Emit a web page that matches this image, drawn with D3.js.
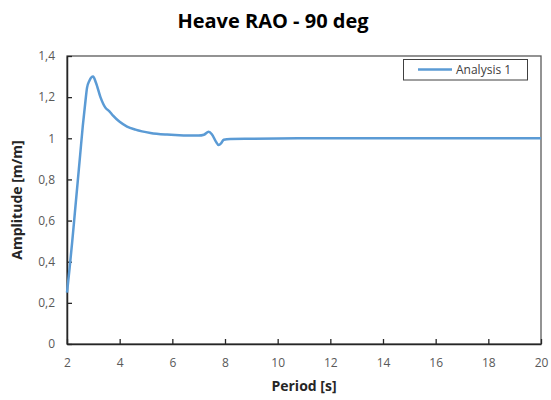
<!DOCTYPE html>
<html><head><meta charset="utf-8">
<script src="https://cdn.jsdelivr.net/npm/d3@7"></script>
<style>body{margin:0;background:#fff}</style>
</head><body>
<svg id="c" width="551" height="400"></svg>
<script>
const periods = [2.0,2.1,2.2,2.3,2.4,2.5,2.6,2.7,2.76,2.85,2.99,3.1,3.27,3.45,3.62,3.75,4.0,4.28,4.6,5.17,5.8,6.43,7.0,7.2,7.38,7.5,7.65,7.76,7.85,7.95,8.2,9,10,12,14,16,18,20];
const amplitudes = [0.25,0.37,0.50,0.64,0.78,0.92,1.06,1.18,1.245,1.28,1.30,1.27,1.20,1.15,1.13,1.11,1.08,1.057,1.042,1.026,1.018,1.014,1.013,1.017,1.032,1.02,0.985,0.967,0.975,0.993,0.997,0.998,0.999,1.0,1.0,1.0,1.0,1.0];
const xTicks = [2,4,6,8,10,12,14,16,18,20];
const yTicks = [0,0.2,0.4,0.6,0.8,1,1.2,1.4];
const seriesName = "Analysis 1";
const titleText = "Heave RAO - 90 deg";

const svg = d3.select("#c");
const L = 67, R = 541, T = 56, B = 344;
const x = d3.scaleLinear().domain([2,20]).range([L,R]);
const y = d3.scaleLinear().domain([0,1.4]).range([B,T]);
const fmt = d => String(d).replace(".", ",");
const font = "'Open Sans', 'Liberation Sans', sans-serif";

// frame
svg.append("rect").attr("x",L).attr("y",T).attr("width",R-L).attr("height",B-T)
  .attr("fill","none").attr("stroke","#595959").attr("stroke-width",1.3);

const xAxis = svg.append("g").attr("transform",`translate(0,${B})`)
  .call(d3.axisBottom(x).tickValues(xTicks).tickSizeInner(-5).tickSizeOuter(0).tickPadding(14).tickFormat(fmt));
const yAxis = svg.append("g").attr("transform",`translate(${L},0)`)
  .call(d3.axisLeft(y).tickValues(yTicks).tickSizeInner(-5).tickSizeOuter(0).tickPadding(12).tickFormat(fmt));
[xAxis,yAxis].forEach(a=>{
  a.select(".domain").attr("stroke","#262626").attr("stroke-width",1.5);
  a.selectAll(".tick line").attr("stroke","#262626").attr("stroke-width",1.3);
  a.selectAll(".tick text").attr("fill","#595959").style("font-family",font).style("font-size","12px");
});

svg.append("path").datum(periods.map((p,i)=>[p,amplitudes[i]]))
  .attr("fill","none").attr("stroke","#5B9BD5").attr("stroke-width",2.5)
  .attr("d", d3.line().x(d=>x(d[0])).y(d=>y(d[1])).curve(d3.curveMonotoneX));

// title
svg.append("text").attr("x",273).attr("y",28).attr("text-anchor","middle")
  .style("font-family",font).style("font-weight","bold").style("font-size","20px").attr("fill","#000").text(titleText);
svg.append("text").attr("x",304).attr("y",391).attr("text-anchor","middle")
  .style("font-family",font).style("font-weight","bold").style("font-size","14px").attr("fill","#262626").text("Period [s]");
svg.append("text").attr("transform","translate(22,200) rotate(-90)").attr("text-anchor","middle")
  .style("font-family",font).style("font-weight","bold").style("font-size","14px").attr("fill","#262626").text("Amplitude [m/m]");

// legend
const lg = svg.append("g");
lg.append("rect").attr("x",403.5).attr("y",59.5).attr("width",124).attr("height",20.5)
  .attr("fill","#fff").attr("stroke","#404040").attr("stroke-width",1);
lg.append("line").attr("x1",418).attr("x2",452).attr("y1",69.5).attr("y2",69.5)
  .attr("stroke","#5B9BD5").attr("stroke-width",2.5);
lg.append("text").attr("x",456).attr("y",74).style("font-family",font).style("font-size","12px")
  .attr("fill","#404040").text(seriesName);
</script>
</body></html>
